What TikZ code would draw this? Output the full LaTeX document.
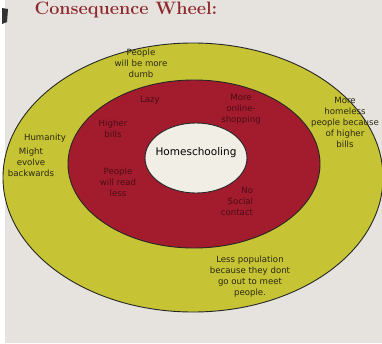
\documentclass[tikz,border=0pt]{standalone}
\usepackage{fontspec}
\newfontfamily\handfont{DejaVu Sans}
\definecolor{paper}{HTML}{E6E3DE}
\definecolor{ring}{HTML}{C6C334}
\definecolor{core}{HTML}{A31C2E}
\definecolor{hub}{HTML}{F1EEE6}
\definecolor{title}{HTML}{8E2A2E}
\definecolor{inkred}{HTML}{4A0C14}
\definecolor{inkolive}{HTML}{2A2812}
\begin{document}
\begin{tikzpicture}[x=1pt, y=-1pt,
  edge/.style={draw=black!85, line width=0.9pt},
  hand/.style={align=center, font=\handfont\fontsize{8.6}{11}\selectfont, inner sep=0pt},
  onred/.style={hand, text=inkred},
  onyellow/.style={hand, text=inkolive}]
\useasboundingbox (0,0) rectangle (382,343);
\fill[paper] (0,0) rectangle (382,343);
\fill[white] (0,0) rectangle (5,343);
\fill[black!80] (2,8) -- (8,9) -- (7,22) -- (2,24) -- cycle;
\node[text=title, font=\bfseries\fontsize{18}{18}\selectfont, anchor=base, inner sep=0pt] (T) at (126,14) {Consequence Wheel:};
% rings
\draw[edge, fill=ring] (193,177.5) ellipse [x radius=190pt, y radius=134.5pt];
\draw[edge, fill=core] (194,164) ellipse [x radius=126pt, y radius=84pt];
\draw[edge, fill=hub] (196,158) ellipse [x radius=51pt, y radius=35pt];
\node[hand, font=\handfont\fontsize{10.5}{12}\selectfont, text=black] (H) at (196,153) {Homeschooling};
% inner ring
\node[onred] (R_0) at (150,100) {Lazy};
\node[onred] (R_1) at (113,129) {Higher\\bills};
\node[onred] (R_2) at (118,182) {People\\will read\\less};
\node[onred] (R_3) at (241,109) {More\\online-\\shopping};
\node[onred, align=right] (R_4) at (237,201) {No\\Social\\contact};
% outer ring
\node[onyellow] (Y_0) at (141,63) {People\\will be more\\dumb};
\node[onyellow] (Y_1) at (45,138) {Humanity};
\node[onyellow] (Y_2) at (31,162) {Might\\evolve\\backwards};
\node[onyellow] (Y_3) at (345,122) {More\\homeless\\people because\\of higher\\bills};
\node[onyellow] (Y_4) at (250,277) {Less population\\because they dont\\go out to meet\\people.};
\end{tikzpicture}
\end{document}
